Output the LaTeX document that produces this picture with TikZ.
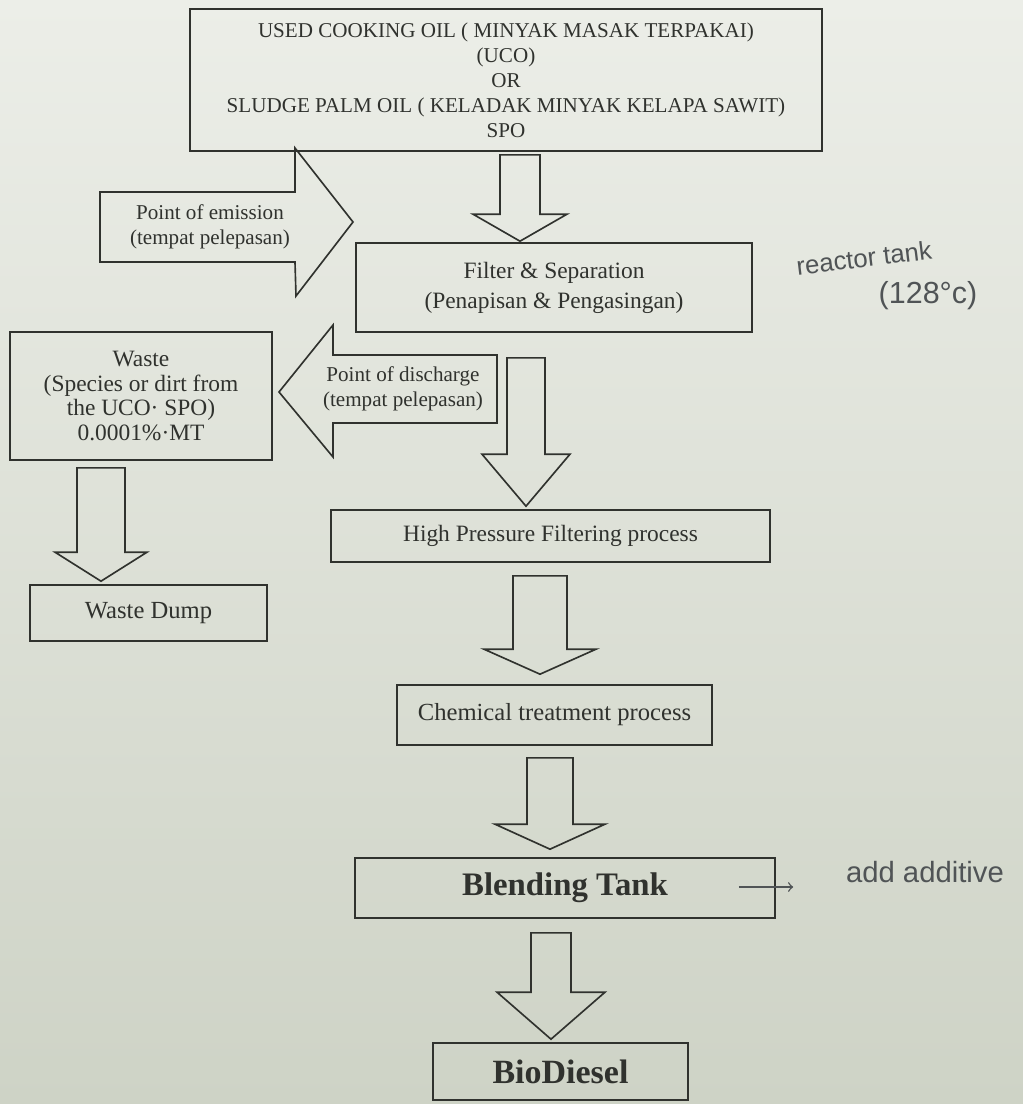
\documentclass[tikz,border=0pt]{standalone}
\usepackage{fontspec}
\setmainfont{Liberation Serif}
\newfontfamily\handfont{Liberation Sans}
\usetikzlibrary{calc}

\definecolor{ink}{RGB}{48,50,46}
\definecolor{pen}{RGB}{80,84,86}
\definecolor{paperA}{RGB}{236,238,232}
\definecolor{paperB}{RGB}{206,211,198}

\def\pxu{0.015cm}

% block arrow pointing down: from, to, x, gap below from, gap above to, half shaft, half head, head length
\newcommand{\blkdown}[8]{%
  \coordinate (ax) at (#3,0);
  \path (#1.south) ++(0,#4) coordinate (ay0) (#2.north) ++(0,-#5) coordinate (ay1);
  \draw[blk] ($(ax |- ay0)+(-#6,0)$) -- ($(ax |- ay1)+(-#6,-#8)$) -- ++({#6-#7},0)
    -- (ax |- ay1) -- ++(#7,-#8) -- ++({#6-#7},0) -- ($(ax |- ay0)+(#6,0)$) -- cycle;}

\begin{document}
\begin{tikzpicture}[x=\pxu, y=-\pxu,
  box/.style={draw=ink, line width=0.7pt, align=center, inner sep=0pt, text=ink},
  blk/.style={draw=ink, line width=0.7pt, line join=miter},
  hand/.style={text=pen, inner sep=1pt, font=\handfont\fontsize{11}{13}\selectfont}]
\shade[top color=paperA, bottom color=paperB] (0,0) rectangle (1023,1104);
\useasboundingbox (0,0) rectangle (1023,1104);

\node[box, minimum width=632*\pxu, minimum height=142*\pxu, font=\fontsize{9}{10.7}\selectfont] (src) at (506,80)
  {USED COOKING OIL ( MINYAK MASAK TERPAKAI)\\(UCO)\\OR\\SLUDGE PALM OIL ( KELADAK MINYAK KELAPA SAWIT)\\SPO};
\node[box, minimum width=396*\pxu, minimum height=89*\pxu, font=\fontsize{10}{12.8}\selectfont] (filt) at (554,287.5)
  {Filter \& Separation\\(Penapisan \& Pengasingan)};
\node[box, minimum width=262*\pxu, minimum height=128*\pxu, font=\fontsize{10}{10.5}\selectfont] (waste) at (141,396)
  {Waste\\(Species or dirt from\\the UCO· SPO)\\0.0001\%·MT};
\node[box, minimum width=237*\pxu, minimum height=56*\pxu, font=\fontsize{10.5}{12}\selectfont] (dump) at (148.5,613) {Waste Dump};
\node[box, minimum width=439*\pxu, minimum height=52*\pxu, font=\fontsize{10}{12}\selectfont] (hpf) at (550.5,536) {High Pressure Filtering process};
\node[box, minimum width=315*\pxu, minimum height=60*\pxu, font=\fontsize{10.5}{12}\selectfont] (chem) at (554.5,715) {Chemical treatment process};
\node[box, minimum width=420*\pxu, minimum height=60*\pxu, font=\bfseries\fontsize{14}{16}\selectfont] (blend) at (565,888) {Blending Tank};
\node[box, minimum width=255*\pxu, minimum height=57*\pxu, font=\bfseries\fontsize{14.5}{16}\selectfont] (bio) at (560.5,1071.5) {BioDiesel};

\blkdown{src}{filt}{520}{3}{1}{20}{47}{27}
\blkdown{filt}{hpf}{526}{25}{3}{19}{44}{52}
\blkdown{hpf}{chem}{540}{13}{10}{27}{56}{25}
\blkdown{chem}{blend}{550}{12}{8}{23}{55}{25}
\blkdown{blend}{bio}{551}{14}{3}{20}{54}{47}
\blkdown{waste}{dump}{101}{7}{3}{24}{46}{29}

% side arrows
\draw[blk] (100,192) -- (295,192) -- (295,148) -- (353,222) -- (296,296) -- (295,262) -- (100,262) -- cycle;
\node[align=center, text=ink, font=\fontsize{9}{10.7}\selectfont] (emis) at (210,227) {Point of emission\\(tempat pelepasan)};
\draw[blk] (279,392) -- (333,325) -- (333,355) -- (497,355) -- (497,423) -- (333,423) -- (333,457) -- cycle;
\node[align=center, text=ink, font=\fontsize{9}{10.7}\selectfont] (disch) at (403,389) {Point of discharge\\(tempat pelepasan)};

% handwritten notes
\node[hand, rotate=7] (rtank) at (864,258) {reactor tank};
\node[hand, font=\handfont\fontsize{13}{15}\selectfont] (rtemp) at (928,296) {(128°c)};
\node[hand, font=\handfont\fontsize{12.5}{15}\selectfont] (addit) at (925,872) {add additive};
\coordinate (pen0) at ($(blend.east)+(-37,-1)$);
\draw[->, pen, line width=0.6pt, shorten >=50*\pxu] (pen0) -- (pen0 -| addit.west);
\end{tikzpicture}
\end{document}
